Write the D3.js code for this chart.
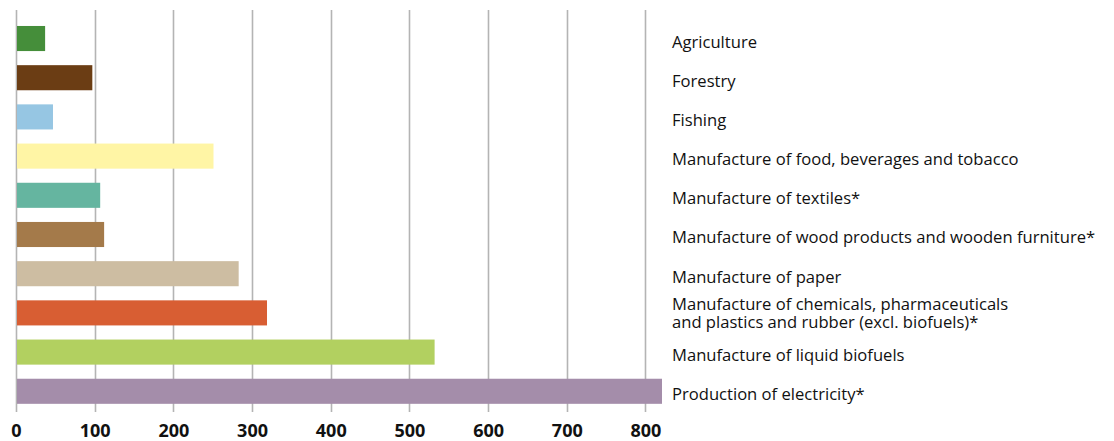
<!DOCTYPE html>
<html>
<head>
<meta charset="utf-8">
<script src="https://cdn.jsdelivr.net/npm/d3@7"></script>
<style>
  html, body { margin: 0; padding: 0; background: #fff; }
  svg { display: block; }
</style>
</head>
<body>
<svg id="chart" width="1114" height="441"></svg>
<script>
const categories = [
  "Agriculture",
  "Forestry",
  "Fishing",
  "Manufacture of food, beverages and tobacco",
  "Manufacture of textiles*",
  "Manufacture of wood products and wooden furniture*",
  "Manufacture of paper",
  "Manufacture of chemicals, pharmaceuticals\nand plastics and rubber (excl. biofuels)*",
  "Manufacture of liquid biofuels",
  "Production of electricity*"
];
const values = [37, 97, 47, 251, 107, 112, 283, 319, 532, 821];
const colors = ["#458e3a", "#6b3d14", "#96c6e3", "#fff5a5", "#65b5a0", "#a47a4a", "#cdbda2", "#d85e33", "#b2d060", "#a48daa"];
const xTicks = [0, 100, 200, 300, 400, 500, 600, 700, 800];

const svg = d3.select("#chart");
const plotLeft = 16, plotRight = 662, plotTop = 10, gridBottom = 412;

const x = d3.scaleLinear().domain([0, 821]).range([plotLeft, plotRight]);
const y = d3.scaleBand().domain(categories).range([10.3, 419.5]).paddingInner(0.36).paddingOuter(0.4);

// gridlines
svg.append("g").selectAll("line").data(xTicks).join("line")
  .attr("x1", d => Math.round(x(d)) + 0.5).attr("x2", d => Math.round(x(d)) + 0.5)
  .attr("y1", plotTop).attr("y2", gridBottom)
  .attr("stroke", "#b4b4b4").attr("stroke-width", 1.6);

// bars
svg.append("g").selectAll("rect").data(categories).join("rect")
  .attr("x", x(0) + 1)
  .attr("y", d => y(d))
  .attr("width", (d, i) => x(values[i]) - x(0) - 1)
  .attr("height", y.bandwidth())
  .attr("fill", (d, i) => colors[i]);

// x axis labels
const xAxis = d3.axisBottom(x).tickValues(xTicks).tickSize(0).tickPadding(0);
const ax = svg.append("g").attr("transform", `translate(0, ${gridBottom + 2})`).call(xAxis);
ax.select(".domain").remove();
ax.selectAll("text")
  .attr("dy", "0")
  .attr("y", 23)
  .attr("font-family", "'Open Sans', sans-serif")
  .attr("font-weight", 700)
  .attr("font-size", 18)
  .attr("fill", "#111");

// category labels
const lab = svg.append("g").selectAll("text").data(categories).join("text")
  .attr("x", 672)
  .attr("font-family", "'Open Sans', sans-serif")
  .attr("font-size", 16.6)
  .attr("fill", "#111");
lab.each(function(d) {
  const lines = d.split("\n");
  const cy = y(d) + y.bandwidth() / 2;
  const t = d3.select(this);
  lines.forEach((ln, k) => {
    const yy = lines.length > 1 ? cy + 6 + (k - 0.5) * 18 : cy + 9;
    t.append("tspan").attr("x", 672).attr("y", yy).text(ln);
  });
});
</script>
</body>
</html>
